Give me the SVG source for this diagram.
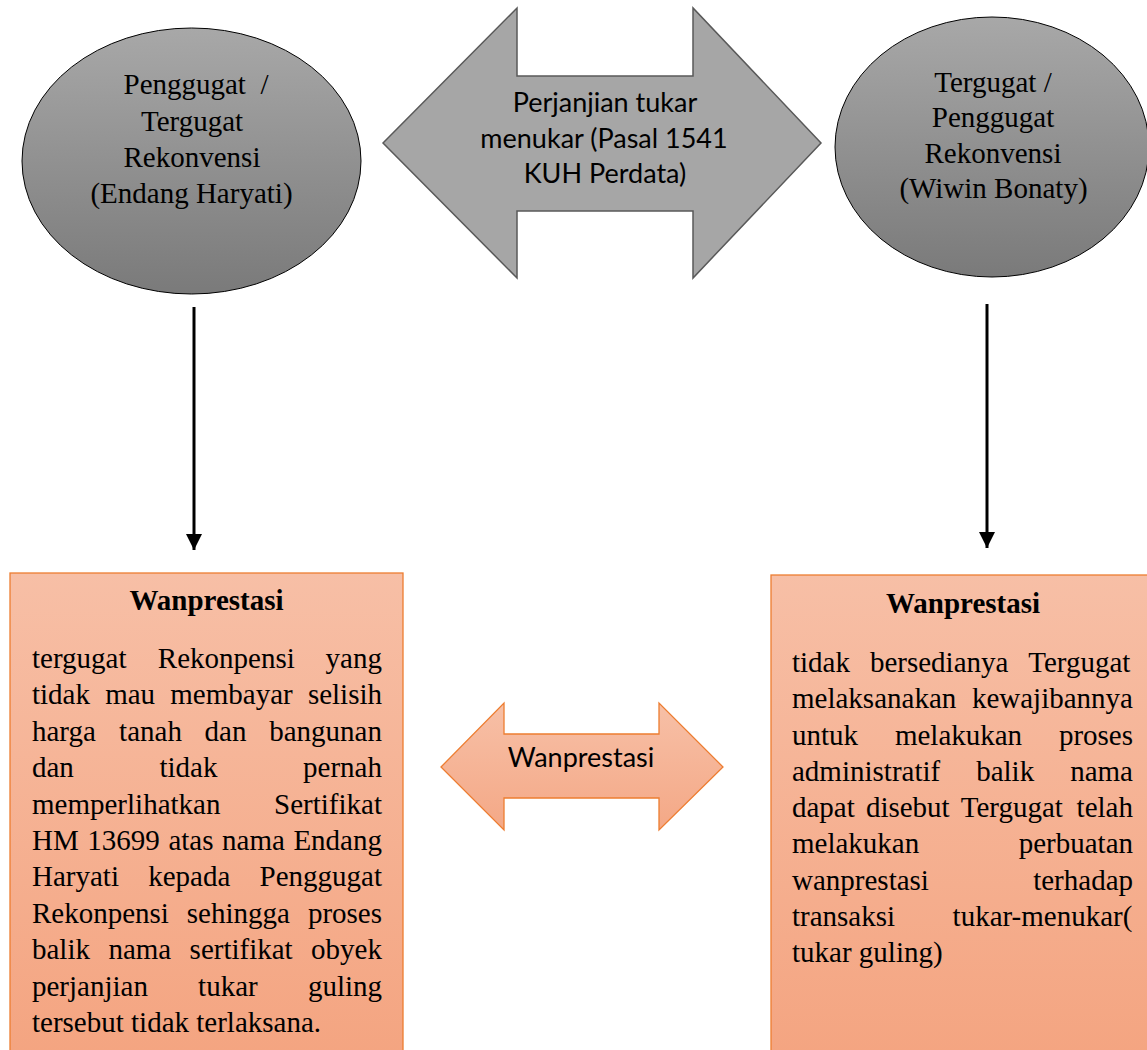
<svg xmlns="http://www.w3.org/2000/svg" width="1147" height="1050" viewBox="0 0 1147 1050">
<defs>
<linearGradient id="grayGrad" x1="0" y1="0" x2="0" y2="1">
<stop offset="0" stop-color="#a8a8a8"/>
<stop offset="1" stop-color="#7a7a7a"/>
</linearGradient>
<linearGradient id="orangeGrad" x1="0" y1="0" x2="0" y2="1">
<stop offset="0" stop-color="#f7bfa6"/>
<stop offset="1" stop-color="#f4a480"/>
</linearGradient>
<linearGradient id="orangeGradS" x1="0" y1="0" x2="0" y2="1">
<stop offset="0" stop-color="#f7c0a7"/>
<stop offset="1" stop-color="#f4a886"/>
</linearGradient>
<marker id="ah" viewBox="0 0 16 16" refX="16" refY="8" markerWidth="16" markerHeight="16" markerUnits="userSpaceOnUse" orient="auto">
<path d="M0,0 L16,8 L0,16 Z" fill="#000"/>
</marker>
<style>
.serif{font-family:"Liberation Serif","Times New Roman",serif;font-size:29px;fill:#000}
.b{font-weight:bold}
.sans{font-family:Lato,"Liberation Sans",sans-serif;font-size:27px;fill:#000}
.ell{fill:url(#grayGrad);stroke:#000;stroke-width:1}
.box{fill:url(#orangeGrad);stroke:#ed7d31;stroke-width:1.3}
.conn{stroke:#000;stroke-width:3;fill:none}
</style>
</defs>
<rect width="1147" height="1050" fill="#fff"/>

<g id="node-left-party">
<ellipse class="ell" cx="191.5" cy="161" rx="169.5" ry="133"/>
<text class="serif" text-anchor="middle" xml:space="preserve"><tspan x="196" y="94">Penggugat  /</tspan><tspan x="192" y="131">Tergugat</tspan><tspan x="192" y="167">Rekonvensi</tspan><tspan x="191.5" y="203">(Endang Haryati)</tspan></text>
</g>

<g id="node-right-party">
<ellipse class="ell" cx="992" cy="147" rx="157" ry="130"/>
<text class="serif" text-anchor="middle"><tspan x="993" y="92">Tergugat /</tspan><tspan x="993" y="127">Penggugat</tspan><tspan x="993" y="163">Rekonvensi</tspan><tspan x="993.5" y="198">(Wiwin Bonaty)</tspan></text>
</g>

<g id="node-agreement">
<polygon points="383,143 517,8 517,76 693,76 693,8 821,143 693,278 693,211 517,211 517,278" fill="#a6a6a6" stroke="#595959" stroke-width="1.5"/>
<text class="sans" text-anchor="middle"><tspan x="605" y="112">Perjanjian tukar</tspan><tspan x="604" y="148">menukar (Pasal 1541</tspan><tspan x="605" y="183">KUH Perdata)</tspan></text>
</g>

<g id="node-wanprestasi-arrow">
<polygon points="441,767 504,703 504,734 659,734 659,703 723,767 659,830 659,798 504,798 504,830" fill="url(#orangeGradS)" stroke="#ed7d31" stroke-width="1.3"/>
<text class="sans" text-anchor="middle" x="581" y="767">Wanprestasi</text>
</g>

<g id="node-left-box">
<rect class="box" x="10" y="573" width="393" height="490"/>
<text class="serif b" text-anchor="middle" x="206.5" y="610">Wanprestasi</text>
<g class="serif">
<text y="668"><tspan x="32">tergugat</tspan><tspan x="157.8">Rekonpensi</tspan><tspan x="325.6">yang</tspan></text>
<text y="704.4"><tspan x="32">tidak</tspan><tspan x="105.2">mau</tspan><tspan x="170.3">membayar</tspan><tspan x="307.9">selisih</tspan></text>
<text y="740.8"><tspan x="32">harga</tspan><tspan x="119.1">tanah</tspan><tspan x="204.6">dan</tspan><tspan x="269.2">bangunan</tspan></text>
<text y="777.2"><tspan x="32">dan</tspan><tspan x="159.5">tidak</tspan><tspan x="303.1">pernah</tspan></text>
<text y="813.6"><tspan x="32">memperlihatkan</tspan><tspan x="274.1">Sertifikat</tspan></text>
<text y="850"><tspan x="32">HM</tspan><tspan x="87.3">13699</tspan><tspan x="168.4">atas</tspan><tspan x="222.1">nama</tspan><tspan x="293.4">Endang</tspan></text>
<text y="886.4"><tspan x="32">Haryati</tspan><tspan x="148.2">kepada</tspan><tspan x="259.6">Penggugat</tspan></text>
<text y="922.8"><tspan x="32">Rekonpensi</tspan><tspan x="186.8">sehingga</tspan><tspan x="307.9">proses</tspan></text>
<text y="959.2"><tspan x="32">balik</tspan><tspan x="108.4">nama</tspan><tspan x="189.6">sertifikat</tspan><tspan x="311.1">obyek</tspan></text>
<text y="995.6"><tspan x="32">perjanjian</tspan><tspan x="198.1">tukar</tspan><tspan x="307.9">guling</tspan></text>
<text x="32" y="1032">tersebut tidak terlaksana.</text>
</g>
</g>

<g id="node-right-box">
<rect class="box" x="771" y="575" width="390" height="490"/>
<text class="serif b" text-anchor="middle" x="963" y="613">Wanprestasi</text>
<g class="serif">
<text y="672"><tspan x="792">tidak</tspan><tspan x="869.9">bersedianya</tspan><tspan x="1028.3">Tergugat</tspan></text>
<text y="708.25"><tspan x="792">melaksanakan</tspan><tspan x="971.9">kewajibannya</tspan></text>
<text y="744.5"><tspan x="792">untuk</tspan><tspan x="894.9">melakukan</tspan><tspan x="1058.9">proses</tspan></text>
<text y="780.75"><tspan x="792">administratif</tspan><tspan x="976.2">balik</tspan><tspan x="1070.2">nama</tspan></text>
<text y="817"><tspan x="792">dapat</tspan><tspan x="865.9">disebut</tspan><tspan x="960.8">Tergugat</tspan><tspan x="1076.6">telah</tspan></text>
<text y="853.25"><tspan x="792">melakukan</tspan><tspan x="1018.7">perbuatan</tspan></text>
<text y="889.5"><tspan x="792">wanprestasi</tspan><tspan x="1033.2">terhadap</tspan></text>
<text y="925.75"><tspan x="792">transaksi</tspan><tspan x="952.6">tukar-menukar(</tspan></text>
<text x="792" y="962">tukar guling)</text>
</g>
</g>

<g id="connectors">
<line class="conn" x1="194" y1="307" x2="194" y2="550" marker-end="url(#ah)"/>
<line class="conn" x1="987" y1="304" x2="987" y2="548" marker-end="url(#ah)"/>
</g>
</svg>
